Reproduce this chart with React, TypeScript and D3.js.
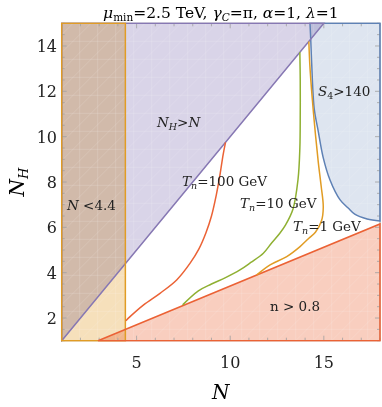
import * as d3 from "d3";

const W = 382;
const H = 407;

// axis ticks
const xTicks = [5, 10, 15];
const yTicks = [2, 4, 6, 8, 10, 12, 14];

// region boundaries (N, N_H)
const nCut = 4.4;
const diagLine = [[1, 1], [15, 15]];
const nLine = [[2.94, 1], [18, 6.15]];
const s4Edge = [
  [14.26, 15], [14.3, 14.3], [14.35, 13.25], [14.49, 11.2], [14.69, 10.29],
  [14.96, 9.1], [15.33, 8.09], [15.87, 7.21], [16.3, 6.85], [16.65, 6.58],
  [17.31, 6.37], [18, 6.28],
];

// nucleation temperature contours
const tn100 = [
  [9.75, 9.75], [9.62, 9.2], [9.45, 8.3], [9.25, 7.4], [9.0, 6.5],
  [8.7, 5.75], [8.33, 5.05], [7.85, 4.41], [7.14, 3.68], [6.25, 3.09],
  [5.36, 2.57], [4.65, 2.06], [4.43, 1.88],
];
const tn10 = [
  [13.72, 13.72], [13.74, 12.5], [13.74, 11.0], [13.72, 9.5], [13.62, 8.1],
  [13.35, 6.8], [12.95, 6.1], [12.65, 5.74], [12.2, 5.3], [11.77, 4.86],
  [11.1, 4.45], [10.52, 4.12], [9.75, 3.78], [9.0, 3.5], [8.3, 3.2],
  [7.46, 2.58],
];
const tn1 = [
  [14.2, 14.2], [14.25, 13.2], [14.37, 11.8], [14.53, 10.3], [14.7, 8.9],
  [14.86, 7.8], [14.97, 6.9], [14.88, 6.3], [14.55, 5.78], [14.2, 5.52],
  [13.73, 5.15], [13.02, 4.71], [12.13, 4.34], [11.42, 3.9],
];

const C = {
  purple: "#8778b3", purpleFill: "#d9d4e8",
  orange: "#e19c24", orangeFill: "#f6e0bb",
  red: "#eb6235", redFill: "#f9cebf",
  blue: "#5e81b5", blueFill: "#dee5f0",
  green: "#8fb032",
};

export default function App() {
  const x = d3.scaleLinear().domain([1, 18]).range([61.7, 380]);
  const y = d3.scaleLinear().domain([1, 15]).range([340.7, 23.3]);
  const smooth = d3.line<number[]>().x((d) => x(d[0])).y((d) => y(d[1])).curve(d3.curveCatmullRom);
  const straight = d3.line<number[]>().x((d) => x(d[0])).y((d) => y(d[1]));

  const [x0, x1] = x.range();
  const [y0, y1] = y.range();

  const purpleReg = straight([diagLine[0], diagLine[1], [1, 15]]) + "Z";
  const orangeReg = straight([[1, 1], [nCut, 1], [nCut, 15], [1, 15]]) + "Z";
  const redReg = straight([nLine[0], nLine[1], [18, 1]]) + "Z";
  const blueReg = smooth(s4Edge) + `L${x(18)},${y(15)}Z`;

  const minorX = d3.range(1, 18.01, 1);
  const minorY = d3.range(1, 15.01, 0.5);
  const font = "'DejaVu Serif', 'Liberation Serif', serif";

  // faint triangulation mesh seen inside the shaded regions
  const meshStep = 18;
  const meshLines = d3.range(-20, 40).map((i) => i * meshStep);

  return (
    <div style={{ position: "absolute", left: 0, top: 0 }}>
      <svg width={W} height={H} style={{ display: "block", fontFamily: font }}>
        <defs>
          <clipPath id="plot">
            <rect x={x0 - 1} y={y1 - 1} width={x1 - x0 + 2} height={y0 - y1 + 2} />
          </clipPath>
          <clipPath id="shaded">
            <path d={blueReg} />
            <path d={purpleReg} />
            <path d={orangeReg} />
            <path d={redReg} />
          </clipPath>
        </defs>
        <rect width={W} height={H} fill="white" />
        <g clipPath="url(#plot)" style={{ isolation: "isolate" }}>
          {[
            [blueReg, C.blueFill],
            [purpleReg, C.purpleFill],
            [orangeReg, C.orangeFill],
            [redReg, C.redFill],
          ].map(([d, f], i) => (
            <path key={i} d={d} fill={f} style={{ mixBlendMode: "multiply" }} />
          ))}
        </g>
        <g clipPath="url(#shaded)" stroke="white" strokeOpacity={0.25} strokeWidth={0.6}>
          {meshLines.map((v) => (
            <line key={"d" + v} x1={x0 + v} y1={y0} x2={x0 + v + 400} y2={y0 - 400} />
          ))}
          {meshLines.filter((v) => v >= 0 && v < 330).map((v) => (
            <line key={"v" + v} x1={x0 + v} y1={y1} x2={x0 + v} y2={y0} />
          ))}
          {meshLines.filter((v) => v >= 0 && v < 330).map((v) => (
            <line key={"h" + v} x1={x0} y1={y1 + v} x2={x1} y2={y1 + v} />
          ))}
        </g>
        {/* frame */}
        <rect x={x0} y={y1} width={x1 - x0} height={y0 - y1} fill="none" stroke="#a0a0a0" strokeWidth={1} />
        <g stroke="#a0a0a0" strokeWidth={0.8}>
          {minorX.map((v) => {
            const len = v % 5 === 0 ? 5 : 3;
            return (
              <g key={"x" + v}>
                <line x1={x(v)} x2={x(v)} y1={y0} y2={y0 - len} />
                <line x1={x(v)} x2={x(v)} y1={y1} y2={y1 + len} />
              </g>
            );
          })}
          {minorY.map((v) => {
            const len = v % 2 === 0 ? 5 : 3;
            return (
              <g key={"y" + v}>
                <line x1={x0} x2={x0 + len} y1={y(v)} y2={y(v)} />
                <line x1={x1} x2={x1 - len} y1={y(v)} y2={y(v)} />
              </g>
            );
          })}
        </g>
        {/* region boundaries */}
        <g clipPath="url(#plot)" fill="none" strokeWidth={1.5}>
          <path d={blueReg} stroke={C.blue} />
          <path d={purpleReg} stroke={C.purple} />
          <path d={orangeReg} stroke={C.orange} />
          <path d={redReg} stroke={C.red} />
        </g>
        {/* contours */}
        <g fill="none" strokeWidth={1.5}>
          <path d={smooth(tn100) ?? ""} stroke={C.red} />
          <path d={smooth(tn10) ?? ""} stroke={C.green} />
          <path d={smooth(tn1) ?? ""} stroke={C.orange} />
        </g>
        {/* tick labels */}
        <g fontSize={16} fill="#222">
          {xTicks.map((v) => (
            <text key={v} x={x(v)} y={368} textAnchor="middle">{v}</text>
          ))}
          {yTicks.map((v) => (
            <text key={v} x={57} y={y(v) + 6} textAnchor="end">{v}</text>
          ))}
        </g>
        {/* axis labels */}
        <text x={(x0 + x1) / 2} y={399} textAnchor="middle" fontSize={20} fontStyle="italic">N</text>
        <text transform={`translate(24,${(y0 + y1) / 2}) rotate(-90)`} textAnchor="middle" fontSize={20}>
          <tspan fontStyle="italic">N</tspan>
          <tspan fontStyle="italic" fontSize={13} dy={4}>H</tspan>
        </text>
        {/* title */}
        <text x={(x0 + x1) / 2} y={18} textAnchor="middle" fontSize={15.5}>
          <tspan fontStyle="italic">μ</tspan>
          <tspan fontSize={10.5} dy={3}>min</tspan>
          <tspan dy={-3}>=2.5 TeV, </tspan>
          <tspan fontStyle="italic">γ</tspan>
          <tspan fontSize={10.5} dy={3} fontStyle="italic">C</tspan>
          <tspan dy={-3}>=π, </tspan>
          <tspan fontStyle="italic">α</tspan>
          <tspan>=1, </tspan>
          <tspan fontStyle="italic">λ</tspan>
          <tspan>=1</tspan>
        </text>
        {/* region labels */}
        <g fontSize={13.5} fill="#222">
          <text x={157} y={127}>
            <tspan fontStyle="italic">N</tspan>
            <tspan fontStyle="italic" fontSize={9.5} dy={3}>H</tspan>
            <tspan dy={-3}>&gt;</tspan>
            <tspan fontStyle="italic">N</tspan>
          </text>
          <text x={67} y={210}>
            <tspan fontStyle="italic">N</tspan>
            <tspan> &lt;4.4</tspan>
          </text>
          <text x={318} y={96}>
            <tspan fontStyle="italic">S</tspan>
            <tspan fontSize={9.5} dy={3}>4</tspan>
            <tspan dy={-3}>&gt;140</tspan>
          </text>
          <text x={182} y={186}>
            <tspan fontStyle="italic">T</tspan>
            <tspan fontStyle="italic" fontSize={9.5} dy={3}>n</tspan>
            <tspan dy={-3}>=100 GeV</tspan>
          </text>
          <text x={240} y={208}>
            <tspan fontStyle="italic">T</tspan>
            <tspan fontStyle="italic" fontSize={9.5} dy={3}>n</tspan>
            <tspan dy={-3}>=10 GeV</tspan>
          </text>
          <text x={293} y={231}>
            <tspan fontStyle="italic">T</tspan>
            <tspan fontStyle="italic" fontSize={9.5} dy={3}>n</tspan>
            <tspan dy={-3}>=1 GeV</tspan>
          </text>
          <text x={270} y={311}>n &gt; 0.8</text>
        </g>
      </svg>
    </div>
  );
}
